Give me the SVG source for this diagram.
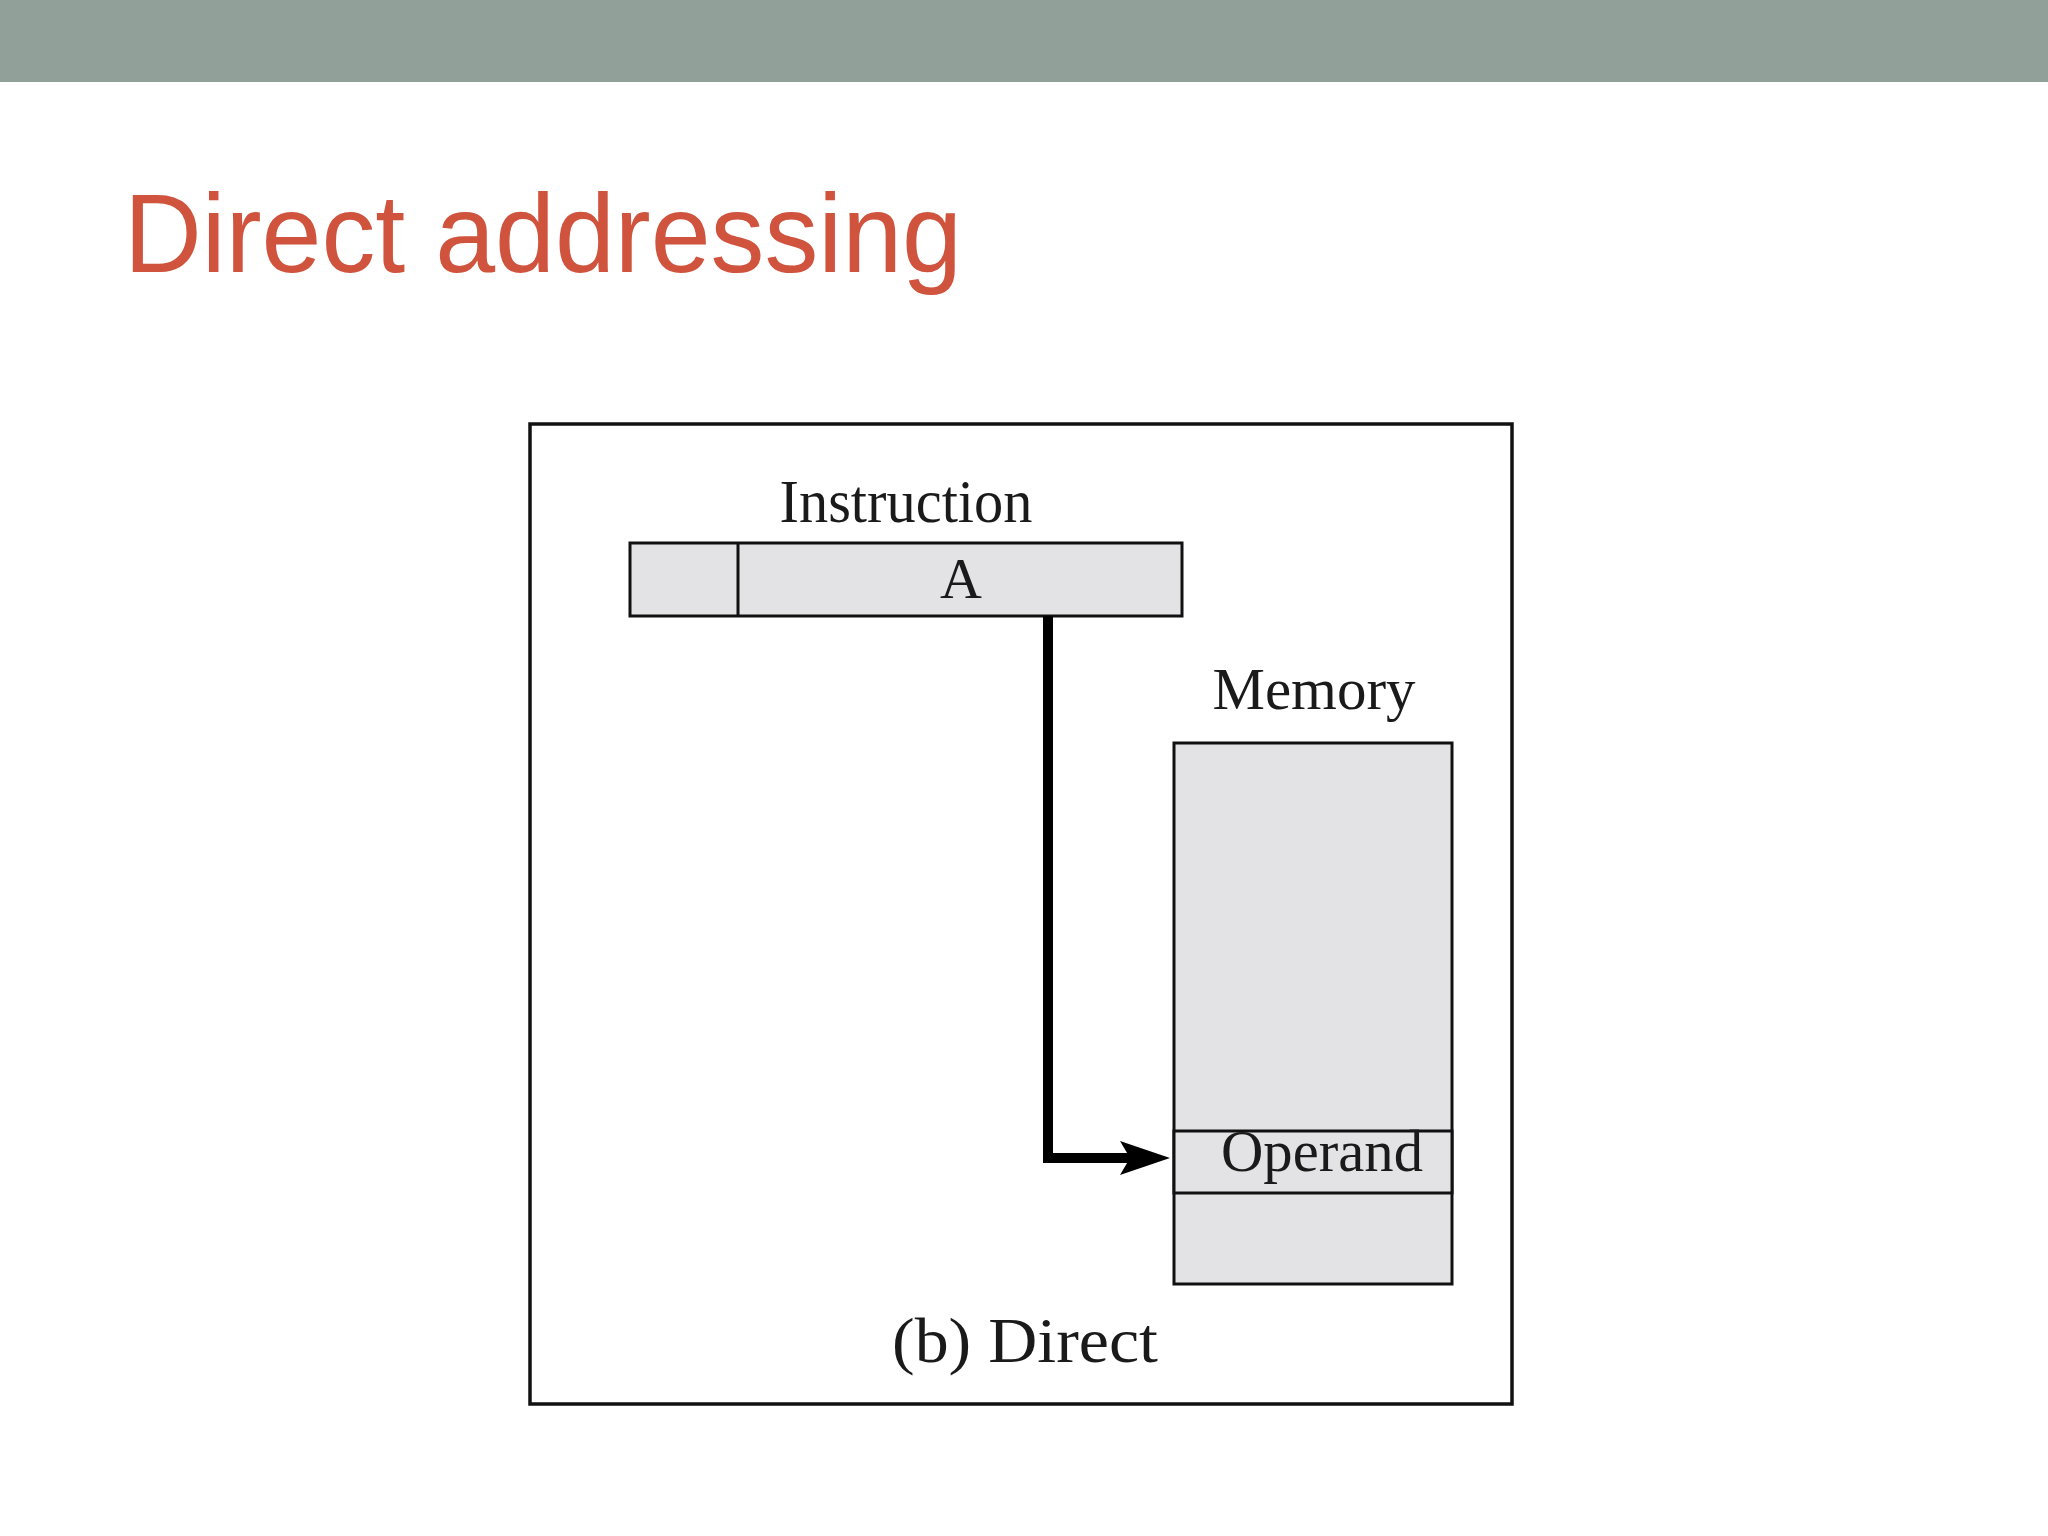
<svg xmlns="http://www.w3.org/2000/svg" width="2048" height="1536" viewBox="0 0 2048 1536">
  <style>
    .box { fill: #E3E3E5; stroke: #111; stroke-width: 3; }
    .lbl { font-family: "Liberation Serif", "Times New Roman", serif; fill: #1a1a1a; }
    .conn { fill: none; stroke: #000; stroke-width: 10; stroke-linejoin: miter; }
  </style>
  <defs>
    <marker id="arrow" markerUnits="userSpaceOnUse" viewBox="0 0 50 34" refX="10" refY="17" markerWidth="50" markerHeight="34" orient="auto">
      <path d="M0,0 L50,17 L0,34 L10,17 z" fill="#000"/>
    </marker>
  </defs>
  <rect x="0" y="0" width="2048" height="1536" fill="#fff"/>
  <rect x="0" y="0" width="2048" height="82" fill="#91A098"/>
  <text x="124" y="272" font-family="'Liberation Sans', Arial, sans-serif" font-size="112" fill="#D0533D" textLength="838" lengthAdjust="spacingAndGlyphs">Direct addressing</text>

  <g id="frame">
    <rect x="530" y="424" width="982" height="980" fill="none" stroke="#111" stroke-width="3.5"/>
  </g>

  <g id="instruction">
    <text class="lbl" x="906" y="522" font-size="62" text-anchor="middle" textLength="253" lengthAdjust="spacingAndGlyphs">Instruction</text>
    <rect class="box" x="630" y="543" width="552" height="73"/>
    <line x1="738" y1="543" x2="738" y2="616" stroke="#111" stroke-width="3"/>
    <text class="lbl" x="961" y="598" font-size="58" text-anchor="middle">A</text>
  </g>

  <g id="memory">
    <text class="lbl" x="1314" y="709" font-size="59" text-anchor="middle" textLength="203" lengthAdjust="spacingAndGlyphs">Memory</text>
    <rect class="box" x="1174" y="743" width="278" height="541"/>
  </g>

  <g id="operand">
    <rect class="box" x="1174" y="1131" width="278" height="62"/>
    <text class="lbl" x="1322" y="1171" font-size="59" text-anchor="middle" textLength="202" lengthAdjust="spacingAndGlyphs">Operand</text>
  </g>

  <g id="caption">
    <text class="lbl" x="1025" y="1362" font-size="63" text-anchor="middle" textLength="266" lengthAdjust="spacingAndGlyphs">(b) Direct</text>
  </g>

  <g id="connectors">
    <path class="conn" d="M1048,616 V1158 H1130" marker-end="url(#arrow)"/>
  </g>
</svg>
